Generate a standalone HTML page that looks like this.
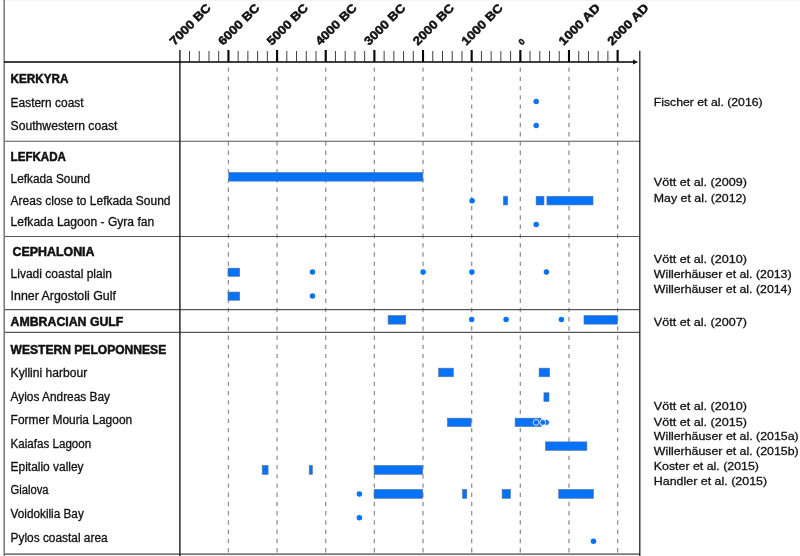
<!DOCTYPE html>
<html><head><meta charset="utf-8"><title>Chart</title>
<style>html,body{margin:0;padding:0;background:#fff;}svg{display:block;will-change:transform;}text{font-family:"Liberation Sans",sans-serif;fill:#111;stroke:#111;stroke-width:0.3;}text.b{stroke-width:0.5;}</style>
</head><body>
<svg width="800" height="556" viewBox="0 0 800 556">
<rect x="0" y="0" width="800" height="556" fill="#ffffff"/>
<rect x="0" y="0" width="800" height="1" fill="#f5f5f5"/>
<line x1="228.43" y1="67.4" x2="228.43" y2="553" stroke="#939393" stroke-width="1.3" stroke-dasharray="4.4 4.844"/>
<line x1="277.08" y1="67.4" x2="277.08" y2="553" stroke="#939393" stroke-width="1.3" stroke-dasharray="4.4 4.844"/>
<line x1="325.73" y1="67.4" x2="325.73" y2="553" stroke="#939393" stroke-width="1.3" stroke-dasharray="4.4 4.844"/>
<line x1="374.38" y1="67.4" x2="374.38" y2="553" stroke="#939393" stroke-width="1.3" stroke-dasharray="4.4 4.844"/>
<line x1="423.03" y1="67.4" x2="423.03" y2="553" stroke="#939393" stroke-width="1.3" stroke-dasharray="4.4 4.844"/>
<line x1="471.68" y1="67.4" x2="471.68" y2="553" stroke="#939393" stroke-width="1.3" stroke-dasharray="4.4 4.844"/>
<line x1="520.33" y1="67.4" x2="520.33" y2="553" stroke="#939393" stroke-width="1.3" stroke-dasharray="4.4 4.844"/>
<line x1="568.98" y1="67.4" x2="568.98" y2="553" stroke="#939393" stroke-width="1.3" stroke-dasharray="4.4 4.844"/>
<line x1="617.63" y1="67.4" x2="617.63" y2="553" stroke="#939393" stroke-width="1.3" stroke-dasharray="4.4 4.844"/>
<line x1="4" y1="141.2" x2="640" y2="141.2" stroke="#555" stroke-width="1.1"/>
<line x1="4" y1="236.5" x2="640" y2="236.5" stroke="#555" stroke-width="1.1"/>
<line x1="4" y1="309.6" x2="640" y2="309.6" stroke="#555" stroke-width="1.1"/>
<line x1="4" y1="332.4" x2="640" y2="332.4" stroke="#555" stroke-width="1.1"/>
<line x1="4" y1="554.2" x2="640" y2="554.2" stroke="#444" stroke-width="1.3"/>
<line x1="4.2" y1="0" x2="4.2" y2="556" stroke="#777" stroke-width="1.5"/>
<line x1="179.9" y1="50" x2="179.9" y2="556" stroke="#1a1a1a" stroke-width="1.4"/>
<line x1="639.8" y1="50.8" x2="639.8" y2="556" stroke="#111" stroke-width="1.2"/>
<line x1="4" y1="62" x2="634" y2="62" stroke="#000" stroke-width="1.6"/>
<path d="M633.0 59.6 L638.2 62 L633.0 64.4 Z" fill="#111"/>
<line x1="189.51" y1="51" x2="189.51" y2="62" stroke="#2a2a2a" stroke-width="0.9"/>
<line x1="199.24" y1="51" x2="199.24" y2="62" stroke="#2a2a2a" stroke-width="0.9"/>
<line x1="208.97" y1="51" x2="208.97" y2="62" stroke="#2a2a2a" stroke-width="0.9"/>
<line x1="218.70" y1="51" x2="218.70" y2="62" stroke="#2a2a2a" stroke-width="0.9"/>
<line x1="228.43" y1="50" x2="228.43" y2="62" stroke="#000" stroke-width="2.1"/>
<line x1="238.16" y1="51" x2="238.16" y2="62" stroke="#2a2a2a" stroke-width="0.9"/>
<line x1="247.89" y1="51" x2="247.89" y2="62" stroke="#2a2a2a" stroke-width="0.9"/>
<line x1="257.62" y1="51" x2="257.62" y2="62" stroke="#2a2a2a" stroke-width="0.9"/>
<line x1="267.35" y1="51" x2="267.35" y2="62" stroke="#2a2a2a" stroke-width="0.9"/>
<line x1="277.08" y1="50" x2="277.08" y2="62" stroke="#000" stroke-width="2.1"/>
<line x1="286.81" y1="51" x2="286.81" y2="62" stroke="#2a2a2a" stroke-width="0.9"/>
<line x1="296.54" y1="51" x2="296.54" y2="62" stroke="#2a2a2a" stroke-width="0.9"/>
<line x1="306.27" y1="51" x2="306.27" y2="62" stroke="#2a2a2a" stroke-width="0.9"/>
<line x1="316.00" y1="51" x2="316.00" y2="62" stroke="#2a2a2a" stroke-width="0.9"/>
<line x1="325.73" y1="50" x2="325.73" y2="62" stroke="#000" stroke-width="2.1"/>
<line x1="335.46" y1="51" x2="335.46" y2="62" stroke="#2a2a2a" stroke-width="0.9"/>
<line x1="345.19" y1="51" x2="345.19" y2="62" stroke="#2a2a2a" stroke-width="0.9"/>
<line x1="354.92" y1="51" x2="354.92" y2="62" stroke="#2a2a2a" stroke-width="0.9"/>
<line x1="364.65" y1="51" x2="364.65" y2="62" stroke="#2a2a2a" stroke-width="0.9"/>
<line x1="374.38" y1="50" x2="374.38" y2="62" stroke="#000" stroke-width="2.1"/>
<line x1="384.11" y1="51" x2="384.11" y2="62" stroke="#2a2a2a" stroke-width="0.9"/>
<line x1="393.84" y1="51" x2="393.84" y2="62" stroke="#2a2a2a" stroke-width="0.9"/>
<line x1="403.57" y1="51" x2="403.57" y2="62" stroke="#2a2a2a" stroke-width="0.9"/>
<line x1="413.30" y1="51" x2="413.30" y2="62" stroke="#2a2a2a" stroke-width="0.9"/>
<line x1="423.03" y1="50" x2="423.03" y2="62" stroke="#000" stroke-width="2.1"/>
<line x1="432.76" y1="51" x2="432.76" y2="62" stroke="#2a2a2a" stroke-width="0.9"/>
<line x1="442.49" y1="51" x2="442.49" y2="62" stroke="#2a2a2a" stroke-width="0.9"/>
<line x1="452.22" y1="51" x2="452.22" y2="62" stroke="#2a2a2a" stroke-width="0.9"/>
<line x1="461.95" y1="51" x2="461.95" y2="62" stroke="#2a2a2a" stroke-width="0.9"/>
<line x1="471.68" y1="50" x2="471.68" y2="62" stroke="#000" stroke-width="2.1"/>
<line x1="481.41" y1="51" x2="481.41" y2="62" stroke="#2a2a2a" stroke-width="0.9"/>
<line x1="491.14" y1="51" x2="491.14" y2="62" stroke="#2a2a2a" stroke-width="0.9"/>
<line x1="500.87" y1="51" x2="500.87" y2="62" stroke="#2a2a2a" stroke-width="0.9"/>
<line x1="510.60" y1="51" x2="510.60" y2="62" stroke="#2a2a2a" stroke-width="0.9"/>
<line x1="520.33" y1="50" x2="520.33" y2="62" stroke="#000" stroke-width="2.1"/>
<line x1="530.06" y1="51" x2="530.06" y2="62" stroke="#2a2a2a" stroke-width="0.9"/>
<line x1="539.79" y1="51" x2="539.79" y2="62" stroke="#2a2a2a" stroke-width="0.9"/>
<line x1="549.52" y1="51" x2="549.52" y2="62" stroke="#2a2a2a" stroke-width="0.9"/>
<line x1="559.25" y1="51" x2="559.25" y2="62" stroke="#2a2a2a" stroke-width="0.9"/>
<line x1="568.98" y1="50" x2="568.98" y2="62" stroke="#000" stroke-width="2.1"/>
<line x1="578.71" y1="51" x2="578.71" y2="62" stroke="#2a2a2a" stroke-width="0.9"/>
<line x1="588.44" y1="51" x2="588.44" y2="62" stroke="#2a2a2a" stroke-width="0.9"/>
<line x1="598.17" y1="51" x2="598.17" y2="62" stroke="#2a2a2a" stroke-width="0.9"/>
<line x1="607.90" y1="51" x2="607.90" y2="62" stroke="#2a2a2a" stroke-width="0.9"/>
<line x1="617.63" y1="50" x2="617.63" y2="62" stroke="#000" stroke-width="2.1"/>
<text x="0" y="0" transform="translate(174.38 45.90) rotate(-45)" class="b" font-size="12" font-weight="bold" textLength="52.7" lengthAdjust="spacingAndGlyphs">7000 BC</text>
<text x="0" y="0" transform="translate(223.03 45.90) rotate(-45)" class="b" font-size="12" font-weight="bold" textLength="52.7" lengthAdjust="spacingAndGlyphs">6000 BC</text>
<text x="0" y="0" transform="translate(271.68 45.90) rotate(-45)" class="b" font-size="12" font-weight="bold" textLength="52.7" lengthAdjust="spacingAndGlyphs">5000 BC</text>
<text x="0" y="0" transform="translate(320.33 45.90) rotate(-45)" class="b" font-size="12" font-weight="bold" textLength="52.7" lengthAdjust="spacingAndGlyphs">4000 BC</text>
<text x="0" y="0" transform="translate(368.98 45.90) rotate(-45)" class="b" font-size="12" font-weight="bold" textLength="52.7" lengthAdjust="spacingAndGlyphs">3000 BC</text>
<text x="0" y="0" transform="translate(417.63 45.90) rotate(-45)" class="b" font-size="12" font-weight="bold" textLength="52.7" lengthAdjust="spacingAndGlyphs">2000 BC</text>
<text x="0" y="0" transform="translate(466.28 45.90) rotate(-45)" class="b" font-size="12" font-weight="bold" textLength="52.7" lengthAdjust="spacingAndGlyphs">1000 BC</text>
<text x="0" y="0" transform="translate(563.58 45.90) rotate(-45)" class="b" font-size="12" font-weight="bold" textLength="52.7" lengthAdjust="spacingAndGlyphs">1000 AD</text>
<text x="0" y="0" transform="translate(612.23 45.90) rotate(-45)" class="b" font-size="12" font-weight="bold" textLength="52.7" lengthAdjust="spacingAndGlyphs">2000 AD</text>
<text x="0" y="0" transform="translate(522.0 45.6) rotate(-45)" class="b" font-size="8.5" font-weight="bold">0</text>
<text x="10.6" y="83.2" class="b" font-size="12" font-weight="bold" textLength="57.9" lengthAdjust="spacingAndGlyphs">KERKYRA</text>
<text x="10.6" y="160.7" class="b" font-size="12" font-weight="bold" textLength="55.4" lengthAdjust="spacingAndGlyphs">LEFKADA</text>
<text x="12.6" y="255.9" class="b" font-size="12" font-weight="bold" textLength="81.9" lengthAdjust="spacingAndGlyphs">CEPHALONIA</text>
<text x="10.6" y="325.5" class="b" font-size="12" font-weight="bold" textLength="112.8" lengthAdjust="spacingAndGlyphs">AMBRACIAN GULF</text>
<text x="10.6" y="353.7" class="b" font-size="12" font-weight="bold" textLength="155.6" lengthAdjust="spacingAndGlyphs">WESTERN PELOPONNESE</text>
<text x="10.6" y="106.7" font-size="12" textLength="73.0" lengthAdjust="spacingAndGlyphs">Eastern coast</text>
<text x="10.6" y="130.0" font-size="12" textLength="106.8" lengthAdjust="spacingAndGlyphs">Southwestern coast</text>
<text x="10.6" y="182.8" font-size="12" textLength="79.6" lengthAdjust="spacingAndGlyphs">Lefkada Sound</text>
<text x="10.6" y="204.5" font-size="12" textLength="159.9" lengthAdjust="spacingAndGlyphs">Areas close to Lefkada Sound</text>
<text x="10.6" y="226.4" font-size="12" textLength="143.6" lengthAdjust="spacingAndGlyphs">Lefkada Lagoon - Gyra fan</text>
<text x="10.6" y="278.0" font-size="12" textLength="101.4" lengthAdjust="spacingAndGlyphs">Livadi coastal plain</text>
<text x="10.6" y="299.8" font-size="12" textLength="105.3" lengthAdjust="spacingAndGlyphs">Inner Argostoli Gulf</text>
<text x="10.6" y="377.1" font-size="12" textLength="76.6" lengthAdjust="spacingAndGlyphs">Kyllini harbour</text>
<text x="10.6" y="400.7" font-size="12" textLength="99.4" lengthAdjust="spacingAndGlyphs">Ayios Andreas Bay</text>
<text x="10.6" y="424.1" font-size="12" textLength="121.6" lengthAdjust="spacingAndGlyphs">Former Mouria Lagoon</text>
<text x="10.6" y="447.5" font-size="12" textLength="80.6" lengthAdjust="spacingAndGlyphs">Kaiafas Lagoon</text>
<text x="10.6" y="470.9" font-size="12" textLength="73.0" lengthAdjust="spacingAndGlyphs">Epitalio valley</text>
<text x="10.6" y="494.4" font-size="12" textLength="38.0" lengthAdjust="spacingAndGlyphs">Gialova</text>
<text x="10.6" y="518.2" font-size="12" textLength="73.2" lengthAdjust="spacingAndGlyphs">Voidokilia Bay</text>
<text x="10.6" y="541.5" font-size="12" textLength="97.0" lengthAdjust="spacingAndGlyphs">Pylos coastal area</text>
<text x="653.8" y="106.2" font-size="11.8" textLength="108.8" lengthAdjust="spacingAndGlyphs">Fischer et al. (2016)</text>
<text x="653.8" y="186.3" font-size="11.8" textLength="93.1" lengthAdjust="spacingAndGlyphs">Vött et al. (2009)</text>
<text x="653.8" y="201.6" font-size="11.8" textLength="92.7" lengthAdjust="spacingAndGlyphs">May et al. (2012)</text>
<text x="653.8" y="263.3" font-size="11.8" textLength="93.1" lengthAdjust="spacingAndGlyphs">Vött et al. (2010)</text>
<text x="653.8" y="278.0" font-size="11.8" textLength="137.8" lengthAdjust="spacingAndGlyphs">Willerhäuser et al. (2013)</text>
<text x="653.8" y="292.8" font-size="11.8" textLength="137.8" lengthAdjust="spacingAndGlyphs">Willerhäuser et al. (2014)</text>
<text x="653.8" y="326.1" font-size="11.8" textLength="93.1" lengthAdjust="spacingAndGlyphs">Vött et al. (2007)</text>
<text x="653.8" y="410.4" font-size="11.8" textLength="93.1" lengthAdjust="spacingAndGlyphs">Vött et al. (2010)</text>
<text x="653.8" y="425.5" font-size="11.8" textLength="93.1" lengthAdjust="spacingAndGlyphs">Vött et al. (2015)</text>
<text x="653.8" y="440.4" font-size="11.8" textLength="144.9" lengthAdjust="spacingAndGlyphs">Willerhäuser et al. (2015a)</text>
<text x="653.8" y="455.3" font-size="11.8" textLength="144.9" lengthAdjust="spacingAndGlyphs">Willerhäuser et al. (2015b)</text>
<text x="653.8" y="470.0" font-size="11.8" textLength="105.2" lengthAdjust="spacingAndGlyphs">Koster et al. (2015)</text>
<text x="653.8" y="484.9" font-size="11.8" textLength="113.3" lengthAdjust="spacingAndGlyphs">Handler et al. (2015)</text>
<rect x="228.8" y="172.45" width="194.1" height="8.70" fill="#0572f7" stroke="#60769a" stroke-width="0.6"/>
<rect x="503.4" y="196.25" width="4.3" height="8.70" fill="#0572f7" stroke="#60769a" stroke-width="0.6"/>
<rect x="536.1" y="196.25" width="7.9" height="8.70" fill="#0572f7" stroke="#60769a" stroke-width="0.6"/>
<rect x="546.9" y="196.25" width="46.1" height="8.70" fill="#0572f7" stroke="#60769a" stroke-width="0.6"/>
<rect x="228.0" y="268.15" width="11.7" height="8.20" fill="#0572f7" stroke="#60769a" stroke-width="0.6"/>
<rect x="228.0" y="292.05" width="11.7" height="8.20" fill="#0572f7" stroke="#60769a" stroke-width="0.6"/>
<rect x="388.1" y="315.45" width="17.6" height="8.70" fill="#0572f7" stroke="#60769a" stroke-width="0.6"/>
<rect x="584.0" y="315.45" width="33.4" height="8.70" fill="#0572f7" stroke="#60769a" stroke-width="0.6"/>
<rect x="438.6" y="368.15" width="14.8" height="8.60" fill="#0572f7" stroke="#60769a" stroke-width="0.6"/>
<rect x="539.1" y="368.15" width="10.5" height="8.60" fill="#0572f7" stroke="#60769a" stroke-width="0.6"/>
<rect x="543.9" y="392.75" width="5.1" height="8.70" fill="#0572f7" stroke="#60769a" stroke-width="0.6"/>
<rect x="447.4" y="418.15" width="23.7" height="8.40" fill="#0572f7" stroke="#60769a" stroke-width="0.6"/>
<rect x="515.1" y="418.15" width="26.0" height="8.40" fill="#0572f7" stroke="#60769a" stroke-width="0.6"/>
<rect x="545.5" y="441.85" width="41.4" height="8.60" fill="#0572f7" stroke="#60769a" stroke-width="0.6"/>
<rect x="262.2" y="465.45" width="5.9" height="8.90" fill="#0572f7" stroke="#60769a" stroke-width="0.6"/>
<rect x="309.2" y="465.45" width="3.2" height="8.90" fill="#0572f7" stroke="#60769a" stroke-width="0.6"/>
<rect x="374.1" y="465.45" width="48.6" height="8.90" fill="#0572f7" stroke="#60769a" stroke-width="0.6"/>
<rect x="374.1" y="489.45" width="48.6" height="8.90" fill="#0572f7" stroke="#60769a" stroke-width="0.6"/>
<rect x="462.5" y="489.45" width="4.3" height="8.90" fill="#0572f7" stroke="#60769a" stroke-width="0.6"/>
<rect x="502.1" y="489.45" width="8.4" height="8.90" fill="#0572f7" stroke="#60769a" stroke-width="0.6"/>
<rect x="558.7" y="489.45" width="34.8" height="8.90" fill="#0572f7" stroke="#60769a" stroke-width="0.6"/>
<circle cx="536.2" cy="101.6" r="2.75" fill="#0572f7"/>
<circle cx="536.2" cy="125.4" r="2.75" fill="#0572f7"/>
<circle cx="472.1" cy="200.8" r="2.75" fill="#0572f7"/>
<circle cx="536.2" cy="224.4" r="2.75" fill="#0572f7"/>
<circle cx="312.5" cy="272.1" r="2.75" fill="#0572f7"/>
<circle cx="423.1" cy="272.1" r="2.75" fill="#0572f7"/>
<circle cx="471.9" cy="272.1" r="2.75" fill="#0572f7"/>
<circle cx="546.4" cy="272.1" r="2.75" fill="#0572f7"/>
<circle cx="312.5" cy="296.0" r="2.75" fill="#0572f7"/>
<circle cx="471.7" cy="319.5" r="2.75" fill="#0572f7"/>
<circle cx="506.1" cy="319.5" r="2.75" fill="#0572f7"/>
<circle cx="561.4" cy="319.6" r="2.75" fill="#0572f7"/>
<circle cx="359.4" cy="494.1" r="2.75" fill="#0572f7"/>
<circle cx="359.4" cy="517.7" r="2.75" fill="#0572f7"/>
<circle cx="593.5" cy="541.3" r="2.75" fill="#0572f7"/>
<circle cx="546.5" cy="422.4" r="2.9" fill="#0572f7" stroke="#fff" stroke-width="0.8"/>
<circle cx="542.8" cy="422.4" r="2.9" fill="#0572f7" stroke="#fff" stroke-width="0.8"/>
<circle cx="536.1" cy="422.4" r="2.9" fill="#0572f7" stroke="#fff" stroke-width="0.8"/>
</svg>
</body></html>
